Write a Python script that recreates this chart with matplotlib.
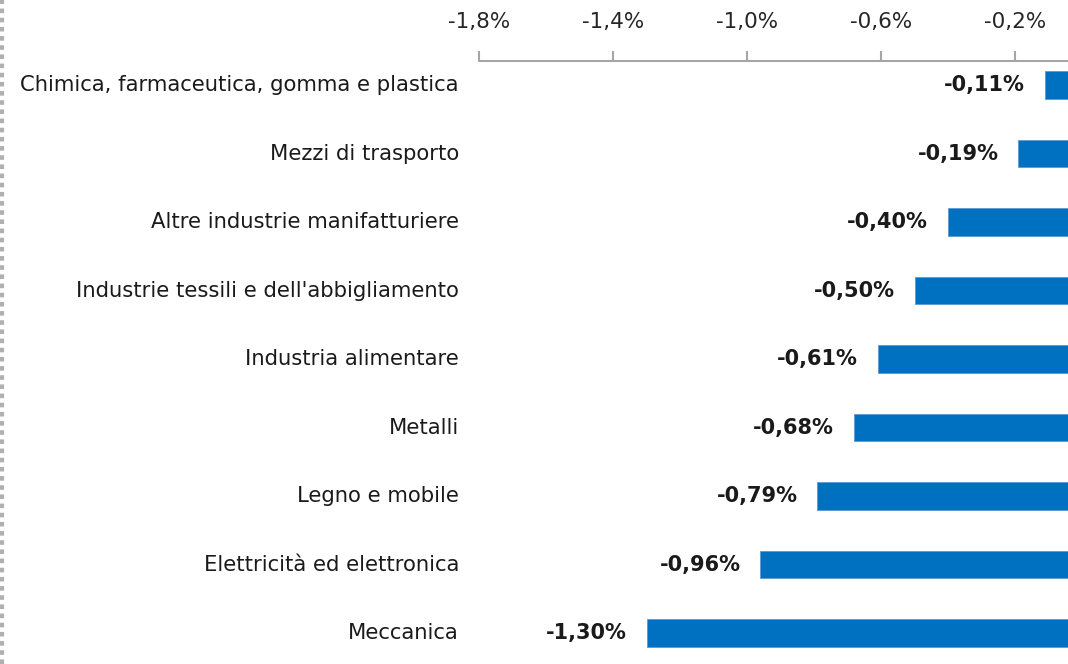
import matplotlib
matplotlib.use("Agg")
import matplotlib.pyplot as plt
from matplotlib.ticker import FuncFormatter, FixedLocator
from matplotlib.lines import Line2D

categories = ["Chimica, farmaceutica, gomma e plastica",
              "Mezzi di trasporto",
              "Altre industrie manifatturiere",
              "Industrie tessili e dell'abbigliamento",
              "Industria alimentare",
              "Metalli",
              "Legno e mobile",
              "Elettricità ed elettronica",
              "Meccanica"]
values = [-0.11, -0.19, -0.40, -0.50, -0.61, -0.68, -0.79, -0.96, -1.30]
ticks = [-1.8, -1.4, -1.0, -0.6, -0.2]

BLUE = "#0070C0"
TXT = "#1a1a1a"

fig = plt.figure(figsize=(10.68, 6.64), dpi=100)
ax = fig.add_axes([479 / 1068, 0, 1 - 479 / 1068, 603 / 664])

pos = list(range(len(categories)))
ax.barh(pos, values, height=0.4, color=BLUE, edgecolor="#5b9bd5", linewidth=0.6)

ax.set_xlim(-1.8, -0.042)
ax.set_ylim(8.45, -0.35)

# value labels, bold, left of bar end
for p, v in zip(pos, values):
    ax.annotate(f"{v:.2f}%".replace(".", ","), xy=(v, p), xytext=(-20, 0),
                textcoords="offset pixels", ha="right", va="center",
                fontsize=15, fontweight="bold", color=TXT)

# category labels on the left
for p, c in zip(pos, categories):
    ax.annotate(c, xy=(0, p), xycoords=("axes fraction", "data"),
                xytext=(-20, 0), textcoords="offset pixels",
                ha="right", va="center", fontsize=15.2, color=TXT,
                annotation_clip=False)

ax.xaxis.tick_top()
ax.xaxis.set_major_locator(FixedLocator(ticks))
ax.xaxis.set_major_formatter(FuncFormatter(lambda x, _: f"{x:.1f}%".replace(".", ",")))
ax.tick_params(axis="x", direction="out", length=7, width=1.5, color="#a6a6a6",
               labelsize=15.5, labelcolor="#262626", pad=14)
ax.set_yticks([])
for s in ["bottom", "left", "right"]:
    ax.spines[s].set_visible(False)
ax.spines["top"].set_color("#a6a6a6")
ax.spines["top"].set_linewidth(1.5)

# dotted frame on the left edge
fig.add_artist(Line2D([2 / 1068, 2 / 1068], [0, 1], transform=fig.transFigure,
                      color="#b0b0b0", linewidth=3, dashes=(1.1, 1.1)))

fig.savefig("out.png", dpi=100)
